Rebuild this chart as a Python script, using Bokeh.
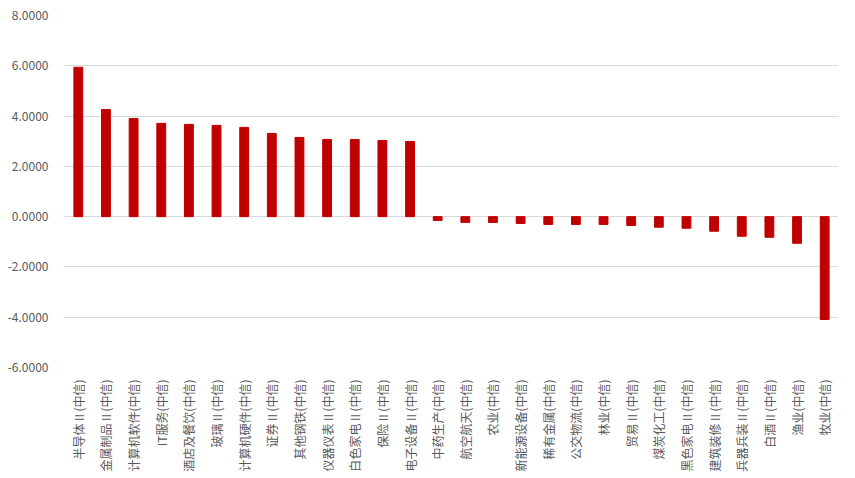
from bokeh.plotting import figure
from bokeh.models import ColumnDataSource, FactorRange, Range1d, PrintfTickFormatter, FixedTicker
from bokeh.embed import file_html
from bokeh.resources import INLINE
import math

categories = [
    "半导体Ⅱ(中信)", "金属制品Ⅱ(中信)", "计算机软件(中信)", "IT服务(中信)", "酒店及餐饮(中信)",
    "玻璃Ⅱ(中信)", "计算机硬件(中信)", "证券Ⅱ(中信)", "其他钢铁(中信)", "仪器仪表Ⅱ(中信)",
    "白色家电Ⅱ(中信)", "保险Ⅱ(中信)", "电子设备Ⅱ(中信)", "中药生产(中信)", "航空航天(中信)",
    "农业(中信)", "新能源设备(中信)", "稀有金属(中信)", "公交物流(中信)", "林业(中信)",
    "贸易Ⅱ(中信)", "煤炭化工(中信)", "黑色家电Ⅱ(中信)", "建筑装修Ⅱ(中信)", "兵器兵装Ⅱ(中信)",
    "白酒Ⅱ(中信)", "渔业(中信)", "牧业(中信)",
]
values = [
    5.94, 4.26, 3.90, 3.71, 3.67,
    3.63, 3.55, 3.31, 3.15, 3.07,
    3.07, 3.03, 2.99, -0.15, -0.23,
    -0.23, -0.27, -0.31, -0.31, -0.31,
    -0.35, -0.42, -0.46, -0.58, -0.78,
    -0.82, -1.06, -4.09,
]
y_ticks = [-6, -4, -2, 0, 2, 4, 6, 8]

FONT = "Noto Sans CJK SC"
GRAY = "#595959"

src = ColumnDataSource(dict(cat=categories, val=values))

p = figure(
    width=855, height=478,
    x_range=FactorRange(*categories, range_padding=0),
    y_range=Range1d(-6, 8),
    output_backend="svg", toolbar_location=None,
    min_border_left=64, min_border_right=17, min_border_top=15, min_border_bottom=111,
)
p.vbar(x="cat", top="val", bottom=0, width=0.32, color="#c00000", source=src)

p.outline_line_color = None
p.xgrid.grid_line_color = None
p.ygrid.grid_line_color = "#d9d9d9"
p.ygrid.grid_line_width = 1

p.yaxis.ticker = FixedTicker(ticks=y_ticks)
p.yaxis.formatter = PrintfTickFormatter(format="%.4f")
for ax in (p.xaxis, p.yaxis):
    ax.axis_line_color = None
    ax.major_tick_line_color = None
    ax.minor_tick_line_color = None
    ax.major_label_text_font = FONT
    ax.major_label_text_font_size = "12px"
    ax.major_label_text_color = GRAY
p.yaxis.major_label_standoff = 10
p.xaxis.major_label_orientation = math.pi / 2
p.xaxis.major_label_standoff = 6

open("out.html", "w").write(file_html(p, INLINE))
